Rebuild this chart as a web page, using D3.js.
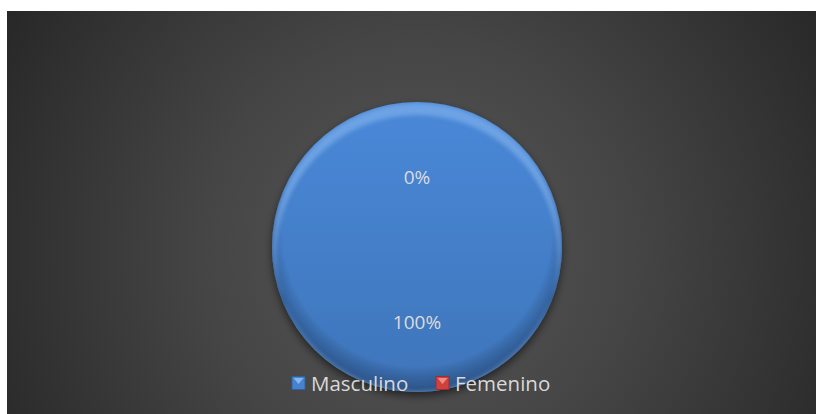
<!DOCTYPE html>
<html>
<head>
<meta charset="utf-8">
<script src="https://cdn.jsdelivr.net/npm/d3@7"></script>
<style>
  html, body { margin: 0; padding: 0; background: #ffffff; }
  svg { display: block; }
</style>
</head>
<body>
<svg id="chart" width="817" height="414"></svg>
<script>
// Gender breakdown
const categories = ["Masculino", "Femenino"];
const values = [100, 0];
const colors = ["#4682cf", "#d0413d"];
const colorsLight = ["#86b6ee", "#f08a86"];
const colorsDark = ["#2c5f9e", "#9a2a27"];

const W = 817, H = 414;
const svg = d3.select("#chart");
const defs = svg.append("defs");

// Plot area frame
const frame = { x: 7, y: 11, w: 809, h: 403 };
const cx = 417, cy = 247, R = 145;

// Dark radial background
const bg = defs.append("radialGradient")
  .attr("id", "bgGrad")
  .attr("gradientUnits", "userSpaceOnUse")
  .attr("cx", cx).attr("cy", cy + 5).attr("r", 480);
bg.append("stop").attr("offset", "0").attr("stop-color", "#575757");
bg.append("stop").attr("offset", "0.45").attr("stop-color", "#454545");
bg.append("stop").attr("offset", "1").attr("stop-color", "#272727");

svg.append("rect")
  .attr("x", frame.x).attr("y", frame.y)
  .attr("width", frame.w).attr("height", frame.h)
  .attr("fill", "url(#bgGrad)");

// Slice fill: soft vertical gradient
colors.forEach((c, i) => {
  const g = defs.append("linearGradient")
    .attr("id", "slice" + i)
    .attr("x1", 0).attr("y1", 0).attr("x2", 0).attr("y2", 1);
  g.append("stop").attr("offset", "0").attr("stop-color", d3.color(c).brighter(0.12));
  g.append("stop").attr("offset", "1").attr("stop-color", d3.color(c).darker(0.3));
});

// Edge darkening for the bevel
const rim = defs.append("radialGradient").attr("id", "rimGrad")
  .attr("cx", "50%").attr("cy", "45%").attr("r", "55%");
rim.append("stop").attr("offset", "0.84").attr("stop-color", "#000").attr("stop-opacity", 0);
rim.append("stop").attr("offset", "0.96").attr("stop-color", "#0a1a33").attr("stop-opacity", 0.3);
rim.append("stop").attr("offset", "1").attr("stop-color", "#0a1a33").attr("stop-opacity", 0.55);

// Shadow under the pie
const shadow = defs.append("filter").attr("id", "pieShadow")
  .attr("x", "-20%").attr("y", "-20%").attr("width", "140%").attr("height", "140%");
shadow.append("feGaussianBlur").attr("in", "SourceAlpha").attr("stdDeviation", 4).attr("result", "b");
shadow.append("feOffset").attr("in", "b").attr("dx", 0).attr("dy", 4).attr("result", "o");
shadow.append("feComponentTransfer").attr("in", "o").attr("result", "s")
  .append("feFuncA").attr("type", "linear").attr("slope", 0.55);
const merge = shadow.append("feMerge");
merge.append("feMergeNode").attr("in", "s");
merge.append("feMergeNode").attr("in", "SourceGraphic");

const blur = defs.append("filter").attr("id", "softBlur");
blur.append("feGaussianBlur").attr("stdDeviation", 2);

const pie = d3.pie().sort(null).value(d => d.value);
const data = pie(categories.map((c, i) => ({ name: c, value: values[i], i })));
const arc = d3.arc().innerRadius(0).outerRadius(R);
const total = d3.sum(values);

const g = svg.append("g").attr("transform", `translate(${cx},${cy})`);

const slices = g.append("g").attr("filter", "url(#pieShadow)");
slices.selectAll("path.slice")
  .data(data.filter(d => d.value > 0))
  .join("path")
  .attr("class", "slice")
  .attr("d", arc)
  .attr("fill", d => `url(#slice${d.data.i})`);

// Bevel: dark rim and a light crescent along the top edge
const clip = defs.append("clipPath").attr("id", "pieClip");
data.filter(d => d.value > 0).forEach(d => {
  clip.append("path").attr("d", arc(d)).attr("transform", `translate(${cx},${cy})`);
});
const bevel = svg.append("g").attr("clip-path", "url(#pieClip)");
data.filter(d => d.value > 0).forEach(d => {
  bevel.append("path")
    .attr("transform", `translate(${cx},${cy})`)
    .attr("d", arc(d))
    .attr("fill", "url(#rimGrad)");
  const crescent = d3.path();
  crescent.arc(0, 0, R - 1, 0, Math.PI * 2);
  crescent.moveTo(R - 4, 9);
  crescent.arc(0, 9, R - 4, 0, Math.PI * 2);
  bevel.append("path")
    .attr("transform", `translate(${cx},${cy})`)
    .attr("d", crescent.toString())
    .attr("fill-rule", "evenodd")
    .attr("fill", colorsLight[d.data.i])
    .attr("opacity", 0.6)
    .attr("filter", "url(#softBlur)");
});

// Percentage labels at each slice centroid
const labelArc = d3.arc().innerRadius(0).outerRadius(R);
g.selectAll("text.pct")
  .data(data)
  .join("text")
  .attr("class", "pct")
  .attr("transform", d => {
    const [x, y] = labelArc.centroid(d);
    return `translate(${x},${y + 2})`;
  })
  .attr("text-anchor", "middle")
  .attr("dominant-baseline", "central")
  .attr("font-family", "'Open Sans', 'Liberation Sans', sans-serif")
  .attr("font-size", 19)
  .attr("fill", "#dcdcdc")
  .text(d => d3.format(".0%")(d.value / total));

// Legend
const legendY = 383;
const legendItems = [
  { x: 292, textX: 311 },
  { x: 436, textX: 455 }
];
const lg = svg.append("g");
categories.forEach((c, i) => {
  const it = legendItems[i];
  const s = 13;
  const y0 = legendY - s / 2;
  lg.append("rect")
    .attr("x", it.x).attr("y", y0).attr("width", s).attr("height", s)
    .attr("fill", colors[i])
    .attr("stroke", colorsDark[i]).attr("stroke-width", 0.8);
  lg.append("path")
    .attr("d", `M${it.x + 1.5},${y0 + 1.5} L${it.x + s - 1.5},${y0 + 1.5} L${it.x + s / 2},${y0 + s / 2 + 1} Z`)
    .attr("fill", colorsLight[i]);
  lg.append("text")
    .attr("x", it.textX).attr("y", legendY)
    .attr("dominant-baseline", "central")
    .attr("font-family", "'Open Sans', 'Liberation Sans', sans-serif")
    .attr("font-size", 20.5)
    .attr("fill", "#d9d9d9")
    .text(c);
});
</script>
</body>
</html>
